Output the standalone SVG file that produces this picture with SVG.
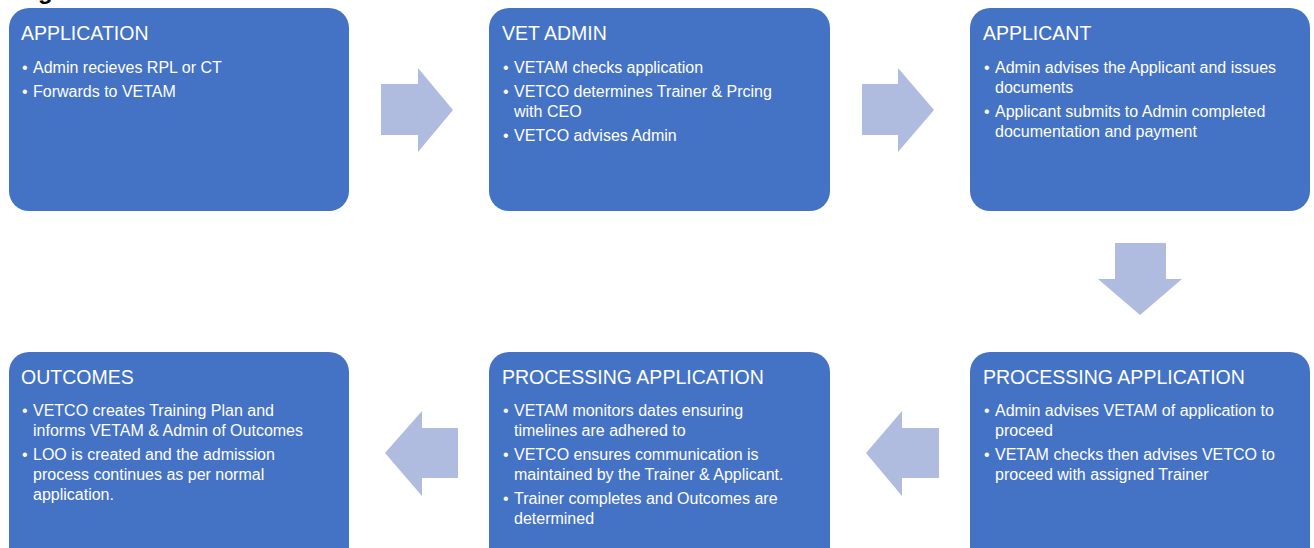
<svg xmlns="http://www.w3.org/2000/svg" width="1314" height="548" viewBox="0 0 1314 548">
<style>
.box{fill:#4472C4}
.arrow{fill:#AFBCDF}
.t{font-family:"Liberation Sans",Arial,sans-serif;font-size:19.5px;fill:#fff}
.b{font-family:"Liberation Sans",Arial,sans-serif;font-size:16px;fill:#fff}
.h{font-family:"Liberation Sans",Arial,sans-serif;font-size:24px;font-weight:bold;fill:#000}
</style>
<rect width="1314" height="548" fill="#fff"/>
<text class="h" x="38" y="-1">g</text>
<g id="connectors">
<polygon class="arrow" points="381,84 418,84 418,68 453,110 418,152 418,135 381,135"/>
<polygon class="arrow" points="862,84 898,84 898,68 934,110 898,152 898,135 862,135"/>
<polygon class="arrow" points="1115,243 1166,243 1166,279 1182,279 1140,315 1098,279 1115,279"/>
<polygon class="arrow" points="939,428 902,428 902,411 866,453 902,496 902,478 939,478"/>
<polygon class="arrow" points="458,428 422,428 422,411 385,453 422,496 422,478 458,478"/>
</g>
<g id="n1">
<rect class="box" x="9" y="8" width="340" height="203" rx="20"/>
<text class="t" x="21" y="40">APPLICATION</text>
<text class="b" x="22" y="73">•</text><text class="b" x="33" y="73">Admin recieves RPL or CT</text>
<text class="b" x="22" y="97">•</text><text class="b" x="33" y="97">Forwards to VETAM</text>
</g>
<g id="n2">
<rect class="box" x="489" y="8" width="341" height="203" rx="20"/>
<text class="t" x="502" y="40">VET ADMIN</text>
<text class="b" x="503" y="73">•</text><text class="b" x="514" y="73">VETAM checks application</text>
<text class="b" x="503" y="97">•</text><text class="b" x="514" y="97">VETCO determines Trainer &amp; Prcing</text>
<text class="b" x="514" y="117">with CEO</text>
<text class="b" x="503" y="141">•</text><text class="b" x="514" y="141">VETCO advises Admin</text>
</g>
<g id="n3">
<rect class="box" x="970" y="8" width="340" height="203" rx="20"/>
<text class="t" x="983" y="40">APPLICANT</text>
<text class="b" x="984" y="73">•</text><text class="b" x="995" y="73">Admin advises the Applicant and issues</text>
<text class="b" x="995" y="93">documents</text>
<text class="b" x="984" y="117">•</text><text class="b" x="995" y="117">Applicant submits to Admin completed</text>
<text class="b" x="995" y="137">documentation and payment</text>
</g>
<g id="n4">
<rect class="box" x="970" y="352" width="340" height="220" rx="20"/>
<text class="t" x="983" y="384">PROCESSING APPLICATION</text>
<text class="b" x="984" y="416">•</text><text class="b" x="995" y="416">Admin advises VETAM of application to</text>
<text class="b" x="995" y="436">proceed</text>
<text class="b" x="984" y="460">•</text><text class="b" x="995" y="460">VETAM checks then advises VETCO to</text>
<text class="b" x="995" y="480">proceed with assigned Trainer</text>
</g>
<g id="n5">
<rect class="box" x="489" y="352" width="341" height="220" rx="20"/>
<text class="t" x="502" y="384">PROCESSING APPLICATION</text>
<text class="b" x="503" y="416">•</text><text class="b" x="514" y="416">VETAM monitors dates ensuring</text>
<text class="b" x="514" y="436">timelines are adhered to</text>
<text class="b" x="503" y="460">•</text><text class="b" x="514" y="460">VETCO ensures communication is</text>
<text class="b" x="514" y="480">maintained by the Trainer &amp; Applicant.</text>
<text class="b" x="503" y="504">•</text><text class="b" x="514" y="504">Trainer completes and Outcomes are</text>
<text class="b" x="514" y="524">determined</text>
</g>
<g id="n6">
<rect class="box" x="9" y="352" width="340" height="220" rx="20"/>
<text class="t" x="21" y="384">OUTCOMES</text>
<text class="b" x="22" y="416">•</text><text class="b" x="33" y="416">VETCO creates Training Plan and</text>
<text class="b" x="33" y="436">informs VETAM &amp; Admin of Outcomes</text>
<text class="b" x="22" y="460">•</text><text class="b" x="33" y="460">LOO is created and the admission</text>
<text class="b" x="33" y="480">process continues as per normal</text>
<text class="b" x="33" y="500">application.</text>
</g>
</svg>
